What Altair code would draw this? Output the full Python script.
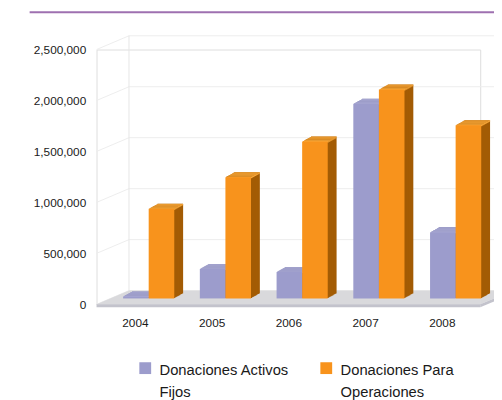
import json
import altair as alt
import pandas as pd

years = ["2004", "2005", "2006", "2007", "2008"]
series = ["Donaciones Activos Fijos", "Donaciones Para Operaciones"]
activos_fijos = [20000, 290000, 260000, 1910000, 650000]
para_operaciones = [880000, 1190000, 1540000, 2050000, 1700000]
y_ticks = [0, 500000, 1000000, 1500000, 2000000, 2500000]

front_colors = ["#9c9ccc", "#f8931c"]
top_colors = ["#b0b0d8", "#f9a83a"]
side_colors = ["#7676a8", "#a35c05"]

rows = []
for i, yr in enumerate(years):
    rows.append({"year": yr, "i": i, "s": 0, "series": series[0], "value": activos_fijos[i]})
    rows.append({"year": yr, "i": i, "s": 1, "series": series[1], "value": para_operaciones[i]})
df = pd.DataFrame(rows)
ticks_df = pd.DataFrame({"v": y_ticks})

W, H = 390, 259
DX, DY = 33, 14          # depth of floor / walls
BX, BY = 14, 6           # bar depth position
SX, SY = 9, 5            # bar box depth

yscale = alt.Scale(domain=[0, 2500000], nice=False)
xscale = alt.Scale(domain=[0, len(years)], nice=False, zero=False)

yaxis = alt.Axis(values=y_ticks, format=",d", ticks=False, domain=False, grid=False,
                 labelPadding=11, labelFontSize=12, labelColor="#1a1a1a",
                 labelFont="Liberation Sans", title=None)
xaxis = alt.Axis(values=[i + 0.5 for i in range(len(years))],
                 labelExpr=json.dumps(years) + "[floor(datum.value)]",
                 ticks=False, domain=False, grid=False, labelPadding=14,
                 labelFontSize=12, labelColor="#1a1a1a", labelFont="Liberation Sans",
                 title=None)

base = alt.Chart(df).transform_calculate(
    x0="datum.i + 1/6 + datum.s/3", x1="datum.i + 1/6 + datum.s/3 + 1/3"
)

one = alt.Chart(ticks_df).transform_filter("datum.v == 0")

# purple header line
header = one.mark_rule(color="#9e70b0", strokeWidth=2).encode(
    x=alt.value(-68), x2=alt.value(410), y=alt.value(-38)
)

# back wall gridlines
grid = alt.Chart(ticks_df).mark_rule(color="#ededed", strokeWidth=1, yOffset=-DY).encode(
    x=alt.value(DX), x2=alt.value(420), y=alt.Y("v:Q", scale=yscale, axis=yaxis)
)
# left wall diagonals
diag = alt.Chart(ticks_df).mark_rule(color="#ededed", strokeWidth=1, y2Offset=-DY).encode(
    x=alt.value(0), x2=alt.value(DX),
    y=alt.Y("v:Q", scale=yscale, axis=yaxis), y2="v:Q"
)
# back wall left edge
wall_edge = one.mark_rule(
    color="#e6e6e6", strokeWidth=1, yOffset=-DY, y2Offset=-DY
).encode(x=alt.value(DX), y=alt.datum(0, scale=yscale), y2=alt.datum(2500000))

# floor
floor_mid = one.mark_rect(color="#d9d9dc", yOffset=-DY).encode(
    x=alt.value(DX), x2=alt.value(W), y=alt.datum(0, scale=yscale), y2=alt.datum(0)
)
floor_left = one.mark_point(
    shape="M-1,0.4242L1,-0.4242L1,0.4242Z", size=DX ** 2,
    filled=True, color="#d9d9dc", opacity=1, strokeWidth=0, yOffset=-DY / 2
).encode(x=alt.value(DX / 2), y=alt.datum(0, scale=yscale))
floor_right = one.mark_point(
    shape="M-1,0.4242L-1,-0.4242L1,-0.4242Z", size=DX ** 2,
    filled=True, color="#d9d9dc", opacity=1, strokeWidth=0, yOffset=-DY / 2
).encode(x=alt.value(W + DX / 2), y=alt.datum(0, scale=yscale))
floor_front = one.mark_rect(color="#c3c3cc", y2Offset=3).encode(
    x=alt.value(0), x2=alt.value(W), y=alt.datum(0, scale=yscale), y2=alt.datum(0)
)
floor_side = one.mark_point(
    shape="M-1,0.3333L1,-0.5152L1,-0.3333L-1,0.5152Z", size=DX ** 2,
    filled=True, color="#c3c3cc", opacity=1, strokeWidth=0, yOffset=-5.5
).encode(x=alt.value(W + DX / 2), y=alt.datum(0, scale=yscale))

layers = [header, grid, diag, wall_edge, floor_mid, floor_left, floor_right, floor_front, floor_side]


def pick(colors):
    return alt.condition(alt.datum.s == 0, alt.value(colors[0]), alt.value(colors[1]))


steps = 9
for k in range(steps, 0, -1):
    dx = BX + SX * k / steps
    dy = -BY - SY * k / steps
    box = base.mark_rect(xOffset=dx, x2Offset=dx, yOffset=dy, y2Offset=dy).encode(
        x=alt.X("x0:Q", scale=xscale, axis=xaxis), x2="x1:Q",
        y=alt.Y("value:Q", scale=yscale, stack=None, axis=yaxis), y2=alt.datum(0),
        color=pick(side_colors),
    )
    top = base.mark_rect(xOffset=dx, x2Offset=dx, yOffset=dy, y2Offset=dy + 1.6).encode(
        x=alt.X("x0:Q", scale=xscale, axis=xaxis), x2="x1:Q",
        y=alt.Y("value:Q", scale=yscale, stack=None, axis=yaxis), y2="value:Q",
        color=pick(top_colors),
    )
    layers += [box, top]

front = base.mark_rect(xOffset=BX, x2Offset=BX, yOffset=-BY, y2Offset=-BY).encode(
    x=alt.X("x0:Q", scale=xscale, axis=xaxis), x2="x1:Q",
    y=alt.Y("value:Q", scale=yscale, stack=None, axis=yaxis), y2=alt.datum(0),
    color=alt.Color("series:N", sort=series,
                    scale=alt.Scale(domain=series, range=front_colors),
                    legend=alt.Legend(
                        title=None, orient="none", legendX=42, legendY=311,
                        direction="horizontal",
                        symbolType="M-1,-0.15L1,-0.15L1,1.85L-1,1.85Z", symbolSize=144,
                        symbolStrokeWidth=0, symbolOpacity=1, labelFontSize=15,
                        labelFont="Liberation Sans", labelColor="#1a1a1a", labelOffset=7,
                        labelBaseline="top", columnPadding=30, padding=0, labelLimit=300,
                        labelExpr="[slice(datum.label, 0, lastindexof(datum.label, ' ')), "
                                  "slice(datum.label, lastindexof(datum.label, ' ') + 1)]",
                    )),
)
layers.append(front)

chart = alt.layer(*layers).properties(
    width=W, height=H,
    padding={"left": 90, "top": 39, "right": 14, "bottom": 94},
    autosize=alt.AutoSizeParams(type="none"),
).configure_view(stroke=None).configure(
    style={"guide-label": {"lineHeight": 22}}
)

chart.save("out.html", embed_options={"renderer": "svg", "actions": False})
